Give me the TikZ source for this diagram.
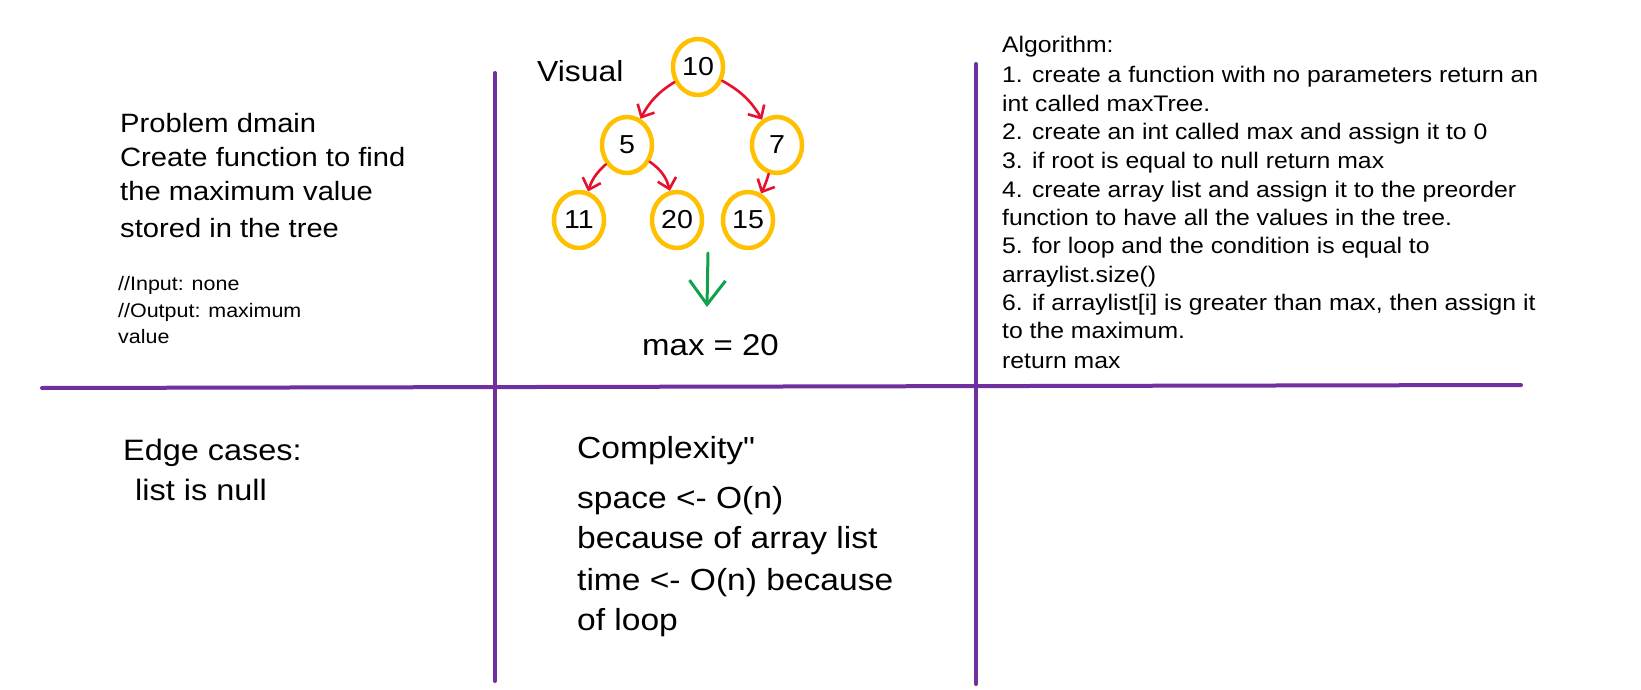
\documentclass[tikz,border=0pt]{standalone}
\usepackage{fontspec}
\setmainfont{Liberation Sans}[FakeStretch=1.1]
\usetikzlibrary{arrows.meta,shapes.geometric}
\definecolor{gridpurple}{HTML}{7030A0}
\definecolor{nodegold}{HTML}{FFC000}
\definecolor{arrred}{HTML}{E8112D}
\definecolor{arrgreen}{HTML}{10A24A}
\newcommand{\fs}[1]{\fontsize{#1}{#1}\selectfont}
\begin{document}
\begin{tikzpicture}[x=1pt,y=-1pt,
  txt/.style={anchor=base west, inner sep=0pt, text=black},
  gridline/.style={draw=gridpurple, line width=4pt, line cap=round},
  treenode/.style={ellipse, draw=nodegold, line width=4.5pt, minimum width=50pt, minimum height=56pt, inner sep=0pt, font=\fs{26}},
  redarrow/.style={draw=arrred, line width=2.6pt, line cap=round, -{Straight Barb[length=10pt,width=19pt,line width=2.6pt]}},
  greenarrow/.style={draw=arrgreen, line width=3pt, line cap=round, -{Straight Barb[length=24pt,width=36pt,line width=3pt]}}
]
\useasboundingbox[fill=white] (0,0) rectangle (1641,690);

% grid lines
\coordinate (h1) at (42,388);
\coordinate (h2) at (1521,385);
\coordinate (v1a) at (495,73);
\coordinate (v1b) at (495,681);
\coordinate (v2a) at (976,64);
\coordinate (v2b) at (976,684);
\draw[gridline] (h1) -- (h2);
\draw[gridline] (v1a) -- (v1b);
\draw[gridline] (v2a) -- (v2b);

% problem domain
\node[txt, font=\fs{26.5}] (p1) at (120,132) {Problem dmain};
\node[txt, font=\fs{26.5}] (p2) at (120,167) {Create function to find};
\node[txt, font=\fs{26.5}] (p3) at (120,200) {the maximum value};
\node[txt, font=\fs{26.5}] (p4) at (120,237) {stored in the tree};
\node[txt, font=\fs{19.5}] (i1) at (118,290) {//Input: none};
\node[txt, font=\fs{19.5}] (i2) at (118,317) {//Output: maximum};
\node[txt, font=\fs{19.5}] (i3) at (118,343) {value};

% visual
\node[txt, font=\fs{29}] (vis) at (537,82) {Visual};
\node[treenode] (n10) at (698,67) {10};
\node[treenode] (n5) at (627,145) {5};
\node[treenode] (n7) at (777,145) {7};
\node[treenode] (n11) at (579,220) {11};
\node[treenode] (n20) at (677,220) {20};
\node[treenode] (n15) at (748,220) {15};
\draw[redarrow] (n10) to[bend right=15] (n5);
\draw[redarrow] (n10) to[bend left=15] (n7);
\draw[redarrow] (n5) to[bend right=15] (n11);
\draw[redarrow] (n5) to[bend left=20] (n20);
\draw[redarrow] (n7) to[bend left=5] (n15);
\coordinate (g1) at (708,253);
\coordinate (g2) at (707,307);
\draw[greenarrow] (g1) -- (g2);
\node[txt, font=\fs{30}] (mx) at (642,355) {max = 20};

% algorithm
\node[txt, font=\fs{22.5}] (a0) at (1002,53) {Algorithm:};
\node[txt, font=\fs{22.5}] (a1) at (1002,83) {1. create a function with no parameters return an};
\node[txt, font=\fs{22.5}] (a2) at (1002,112) {int called maxTree.};
\node[txt, font=\fs{22.5}] (a3) at (1002,140) {2. create an int called max and assign it to 0};
\node[txt, font=\fs{22.5}] (a4) at (1002,168) {3. if root is equal to null return max};
\node[txt, font=\fs{22.5}] (a5) at (1002,197) {4. create array list and assign it to the preorder};
\node[txt, font=\fs{22.5}] (a6) at (1002,225) {function to have all the values in the tree.};
\node[txt, font=\fs{22.5}] (a7) at (1002,253) {5. for loop and the condition is equal to};
\node[txt, font=\fs{22.5}] (a8) at (1002,282) {arraylist.size()};
\node[txt, font=\fs{22.5}] (a9) at (1002,310) {6. if arraylist[i] is greater than max, then assign it};
\node[txt, font=\fs{22.5}] (a10) at (1002,338) {to the maximum.};
\node[txt, font=\fs{22.5}] (a11) at (1002,368) {return max};

% edge cases
\node[txt, font=\fs{29.5}] (e1) at (123,460) {Edge cases:};
\node[txt, font=\fs{29.5}] (e2) at (135,500) {list is null};

% complexity
\node[txt, font=\fs{30.5}] (c1) at (577,458) {Complexity\textquotedbl};
\node[txt, font=\fs{30.5}] (c2) at (577,508) {space <- O(n)};
\node[txt, font=\fs{30.5}] (c3) at (577,548) {because of array list};
\node[txt, font=\fs{30.5}] (c4) at (577,590) {time <- O(n) because};
\node[txt, font=\fs{30.5}] (c5) at (577,630) {of loop};
\end{tikzpicture}
\end{document}
